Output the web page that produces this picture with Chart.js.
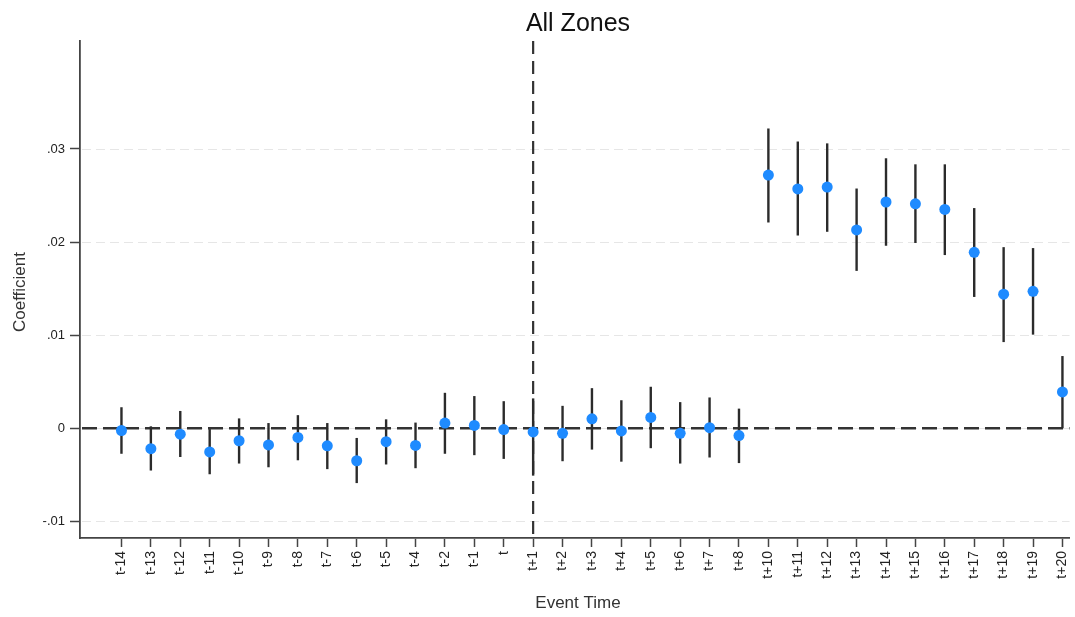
<!DOCTYPE html>
<html>
<head>
<meta charset="utf-8">
<script src="https://cdn.jsdelivr.net/npm/chart.js@4.4.0/dist/chart.umd.min.js"></script>
<style>
	html, body { margin: 0; padding: 0; background: #fff; }
	#wrap { width: 1075px; height: 617px; position: relative; }
</style>
</head>
<body>
<div id="wrap"><canvas id="chart"></canvas></div>
<script>
// event time labels (no t-3, no t+9 in the original)
var eventLabels = ['t-14', 't-13', 't-12', 't-11', 't-10', 't-9', 't-8', 't-7', 't-6', 't-5', 't-4',
	't-2', 't-1', 't', 't+1', 't+2', 't+3', 't+4', 't+5', 't+6', 't+7', 't+8',
	't+10', 't+11', 't+12', 't+13', 't+14', 't+15', 't+16', 't+17', 't+18', 't+19', 't+20'];

var coef = [-0.00025, -0.0022, -0.00065, -0.00255, -0.00135, -0.0018, -0.001, -0.0019, -0.0035, -0.00145, -0.00185,
	0.00055, 0.0003, -0.00015, -0.0004, -0.00055, 0.001, -0.0003, 0.00115, -0.00055, 0.00005, -0.0008,
	0.0272, 0.0257, 0.0259, 0.0213, 0.0243, 0.0241, 0.0235, 0.0189, 0.0144, 0.0147, 0.0039];

var ciUpper = [0.00225, 0.0002, 0.00185, -0.0001, 0.00105, 0.00055, 0.0014, 0.00055, -0.00105, 0.00095, 0.0006,
	0.0038, 0.00345, 0.0029, 0.0032, 0.0024, 0.0043, 0.003, 0.00445, 0.0028, 0.0033, 0.0021,
	0.0322, 0.0308, 0.0306, 0.02575, 0.029, 0.02835, 0.02835, 0.02365, 0.01945, 0.01935, 0.00775];

var ciLower = [-0.00275, -0.00455, -0.0031, -0.00495, -0.0038, -0.0042, -0.00345, -0.0044, -0.0059, -0.0039, -0.0043,
	-0.00275, -0.0029, -0.0033, -0.0051, -0.00355, -0.0023, -0.0036, -0.00215, -0.0038, -0.00315, -0.00375,
	0.0221, 0.0207, 0.0211, 0.0169, 0.0196, 0.0199, 0.0186, 0.0141, 0.00925, 0.01005, 0.0];

var yTickValues = [-0.01, 0, 0.01, 0.02, 0.03];
var yTickLabels = ['-.01', '0', '.01', '.02', '.03'];

var eventIndex = eventLabels.indexOf('t+1');

var points = [];
for (var i = 0; i < coef.length; i++) {
	points.push({x: i, y: coef[i]});
}

//grid lines, reference lines and error bars, drawn under the dots
var decorPlugin = {
	id: 'decor',
	beforeDatasetsDraw: function(chart) {
		var ctx = chart.ctx;
		var area = chart.chartArea;
		var xs = chart.scales.x;
		var ys = chart.scales.y;
		ctx.save();

		//light dashed grid
		ctx.strokeStyle = '#e6e6e6';
		ctx.lineWidth = 1.2;
		ctx.setLineDash([9, 5]);
		for (var k = 0; k < yTickValues.length; k++) {
			var gy = Math.round(ys.getPixelForValue(yTickValues[k])) + 0.5;
			ctx.beginPath();
			ctx.moveTo(area.left + 2, gy);
			ctx.lineTo(area.right, gy);
			ctx.stroke();
		}

		//zero line
		var zy = ys.getPixelForValue(0);
		ctx.strokeStyle = '#333333';
		ctx.lineWidth = 2.4;
		ctx.setLineDash([15, 6]);
		ctx.beginPath();
		ctx.moveTo(area.left + 2, zy);
		ctx.lineTo(area.right, zy);
		ctx.stroke();

		//event line
		var vx = xs.getPixelForValue(eventIndex);
		ctx.lineWidth = 2.2;
		ctx.setLineDash([13, 7]);
		ctx.beginPath();
		ctx.moveTo(vx, area.top);
		ctx.lineTo(vx, area.bottom);
		ctx.stroke();

		//error bars
		ctx.setLineDash([]);
		ctx.strokeStyle = '#2b2b2b';
		ctx.lineWidth = 2.4;
		for (var j = 0; j < coef.length; j++) {
			var px = xs.getPixelForValue(j);
			ctx.beginPath();
			ctx.moveTo(px, ys.getPixelForValue(ciUpper[j]));
			ctx.lineTo(px, ys.getPixelForValue(ciLower[j]));
			ctx.stroke();
		}
		ctx.restore();
	},
	afterDraw: function(chart) {
		var ctx = chart.ctx;
		ctx.save();
		ctx.fillStyle = '#111';
		ctx.textAlign = 'center';
		ctx.textBaseline = 'middle';
		ctx.font = '25px "Liberation Sans", Arial, sans-serif';
		ctx.fillText('All Zones', 578, 24);

		ctx.fillStyle = '#333';
		ctx.font = '17px "Liberation Sans", Arial, sans-serif';
		ctx.fillText('Event Time', 578, 603);

		ctx.translate(20, 292);
		ctx.rotate(-Math.PI / 2);
		ctx.fillText('Coefficient', 0, 0);
		ctx.restore();
	}
};

var tickFont = {family: '"Liberation Sans", Arial, sans-serif', size: 14};

var myChart = new Chart(document.getElementById('chart').getContext('2d'), {
	type: 'scatter',
	data: {
		datasets: [{
			data: points,
			backgroundColor: '#1f8bff',
			borderWidth: 0,
			pointRadius: 5.5,
			pointHoverRadius: 5.5
		}]
	},
	options: {
		responsive: true,
		maintainAspectRatio: false,
		animation: false,
		events: [],
		layout: {padding: {top: 41, right: 0, left: 0, bottom: 0}},
		plugins: {
			legend: {display: false},
			tooltip: {enabled: false}
		},
		scales: {
			x: {
				type: 'linear',
				min: -1.41,
				max: 32.24,
				afterBuildTicks: function(scale) {
					scale.ticks = eventLabels.map(function(l, idx) { return {value: idx}; });
				},
				afterFit: function(scale) {
					scale.height = 79;
					scale.paddingLeft = 0;
					scale.paddingRight = 0;
				},
				ticks: {
					autoSkip: false,
					minRotation: 90,
					maxRotation: 90,
					padding: 4,
					color: '#222',
					font: tickFont,
					callback: function(value) { return eventLabels[value]; }
				},
				grid: {
					drawOnChartArea: false,
					drawTicks: true,
					tickLength: 9,
					tickColor: '#444',
					tickWidth: 1.5
				},
				border: {display: true, color: '#444', width: 1.8}
			},
			y: {
				min: -0.0118,
				max: 0.0416,
				afterBuildTicks: function(scale) {
					scale.ticks = yTickValues.map(function(v) { return {value: v}; });
				},
				afterFit: function(scale) { scale.width = 80; },
				ticks: {
					padding: 5,
					color: '#222',
					font: {family: '"Liberation Sans", Arial, sans-serif', size: 13},
					callback: function(value) {
						var idx = yTickValues.indexOf(value);
						return idx >= 0 ? yTickLabels[idx] : '';
					}
				},
				grid: {
					drawOnChartArea: false,
					drawTicks: true,
					tickLength: 10,
					tickColor: '#444',
					tickWidth: 1.5
				},
				border: {display: true, color: '#444', width: 1.8}
			}
		}
	},
	plugins: [decorPlugin]
});
</script>
</body>
</html>
